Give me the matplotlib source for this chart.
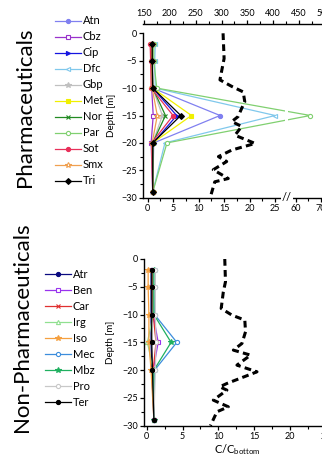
import numpy as np
import matplotlib
matplotlib.use("Agg")
import matplotlib.pyplot as plt
from matplotlib.ticker import MultipleLocator, FixedLocator

plt.rcParams['font.family'] = ['Lato', 'DejaVu Sans']
plt.rcParams['mathtext.fontset'] = 'custom'
plt.rcParams['mathtext.rm'] = 'Lato'

# depths of the samples [m]
depth = [-2, -5, -10, -15, -20, -29]

# pharmaceuticals, C/C_bottom
pharma_names = ['Atn', 'Cbz', 'Cip', 'Dfc', 'Gbp', 'Met', 'Nor', 'Par', 'Sot', 'Smx', 'Tri']
atn = [1.1, 1.0, 1.0, 14.2, 1.2, 1.0]
cbz = [0.8, 0.8, 0.8, 1.1, 0.7, 1.0]
cip = [0.9, 0.9, 1.0, 5.7, 1.1, 1.0]
dfc = [1.5, 1.4, 1.5, 25.0, 3.4, 1.0]
gbp = [1.0, 1.0, 1.0, 2.9, 1.0, 1.0]
met = [0.9, 0.9, 1.0, 8.6, 1.0, 1.0]
nor = [0.9, 0.9, 1.0, 3.5, 1.0, 1.0]
par = [1.2, 1.2, 1.8, 65.8, 3.8, 1.0]
sot = [0.5, 0.6, 0.7, 5.0, 0.8, 1.0]
smx = [0.8, 0.8, 0.9, 1.9, 0.9, 1.0]
tri = [0.9, 0.9, 1.0, 6.5, 1.0, 1.0]
pharma_vals = [atn, cbz, cip, dfc, gbp, met, nor, par, sot, smx, tri]

# non-pharmaceuticals, C/C_bottom
nonph_names = ['Atr', 'Ben', 'Car', 'Irg', 'Iso', 'Mec', 'Mbz', 'Pro', 'Ter']
atr = [0.6, 0.6, 0.6, 0.6, 0.7, 1.0]
ben = [0.9, 0.9, 0.9, 1.6, 0.9, 1.0]
car = [0.8, 0.8, 0.9, 1.3, 0.9, 1.0]
irg = [0.9, 0.9, 0.9, 0.1, 0.9, 1.0]
iso = [0.2, 0.2, 0.3, 0.3, 0.6, 1.0]
mec = [1.2, 1.2, 1.1, 4.2, 1.1, 1.0]
mbz = [1.0, 1.0, 1.0, 3.4, 1.0, 1.0]
pro = [1.2, 1.2, 1.2, 1.3, 1.2, 1.0]
ter = [0.7, 0.7, 0.7, 0.7, 0.8, 1.0]
nonph_vals = [atr, ben, car, irg, iso, mec, mbz, pro, ter]

# dashed profile, top panel (upper axis units)
prof1_x = [303, 305, 300, 297, 320, 342, 345, 339, 332, 320, 339, 326, 365, 320, 294, 310, 284, 313, 287, 278]
prof1_d = [0, -4.6, -7, -8.5, -9.7, -10.7, -12.5, -13.7, -15.2, -16.1, -17, -18.6, -20.1, -21.3, -22.5, -23.4, -24.9, -26.5, -27.1, -30]
# dashed profile, bottom panel
prof2_x = [10.9, 11.0, 10.7, 10.4, 11.9, 13.7, 13.8, 13.3, 12.1, 14.5, 12.6, 15.4, 11.2, 10.2, 11.2, 9.3, 11.4, 9.8, 8.9]
prof2_d = [0, -4.1, -5.9, -8.9, -10.1, -11.0, -13.1, -15.2, -16.4, -17.3, -19.1, -20.3, -22.4, -23.0, -23.6, -25.4, -26.6, -27.5, -30]

pharma_sty = [('#8080f0', 'o', True), ('#9932cc', 's', False), ('#1515e0', '>', True),
              ('#80c8ec', '<', False), ('#c0c0c0', '*', True), ('#f0f000', 's', True),
              ('#228b22', 'x', True), ('#80d070', 'o', False), ('#e8305a', 'o', True),
              ('#f0a050', '*', False), ('#000000', 'D', True)]
nonph_sty = [('#0a0a80', 'o', True), ('#9933ee', 's', False), ('#e03030', 'x', True),
             ('#90e090', '^', False), ('#f5a040', '*', True), ('#3c8ddc', 'o', False),
             ('#20b060', '*', True), ('#c8c8c8', 'o', False), ('#000000', 'o', True)]


def fwd(x):
    x = np.asarray(x, float)
    return np.where(x <= 27, x, np.where(x < 57, 27 + (x - 27) / 60, 27.5 + (x - 57) * 0.5))


def inv(y):
    y = np.asarray(y, float)
    return np.where(y <= 27, y, np.where(y < 27.5, 27 + (y - 27) * 60, 57 + (y - 27.5) * 2))


W, H = 322, 458
fig = plt.figure(figsize=(W / 100, H / 100), dpi=100)


def px_axes(l, t, r, b):
    return fig.add_axes([l / W, 1 - b / H, (r - l) / W, (b - t) / H])


def style_axis(ax):
    for s in ['top', 'right']:
        ax.spines[s].set_visible(False)
    for s in ['left', 'bottom']:
        ax.spines[s].set_linewidth(1.0)
    ax.tick_params(which='major', length=3, width=0.9, labelsize=6.5, pad=1.5)
    ax.tick_params(which='minor', length=2, width=0.8)
    ax.set_ylim(-30, 0)
    ax.yaxis.set_major_locator(MultipleLocator(5))
    ax.yaxis.set_minor_locator(MultipleLocator(2.5))
    ax.set_ylabel('Depth [m]', fontsize=7, labelpad=2)


def draw_series(ax, names, vals, sty):
    for n, v, (c, m, filled) in zip(names, vals, sty):
        ax.plot(v, depth, color=c, lw=0.9, marker=m, ms=3.0 if m != '*' else 4.0,
                mfc=c if filled else 'white', mec=c, mew=0.8, label=n, zorder=2)


legend_kw = dict(frameon=False, fontsize=8, handlelength=2.3, handletextpad=0.2,
                 labelspacing=0.45, borderpad=0, borderaxespad=0)

# ---- top panel
ax1 = px_axes(143, 33.3, 330, 197.7)
style_axis(ax1)
ax1.set_xscale('function', functions=(fwd, inv))
ax1.set_xlim(-0.9, 73.5)
ax1.xaxis.set_major_locator(FixedLocator([0, 5, 10, 15, 20, 25, 60, 70]))
ax1.xaxis.set_minor_locator(FixedLocator([2.5, 7.5, 12.5, 17.5, 22.5, 65]))
draw_series(ax1, pharma_names, pharma_vals, pharma_sty)
ax1.axvspan(27.2, 55, color='white', zorder=2.3, lw=0)
ax1.text(46, -30, '//', fontsize=8, ha='center', va='center', zorder=5, clip_on=False,
         bbox=dict(facecolor='white', edgecolor='none', pad=0.5))
ax1.legend(loc='upper left', bbox_to_anchor=(55 / W, 1 - 15.5 / H), bbox_transform=fig.transFigure,
           **legend_kw)

ax1t = ax1.twiny()
for s in ['bottom', 'left', 'right']:
    ax1t.spines[s].set_visible(False)
ax1t.spines['top'].set_position(('outward', 6.7))
ax1t.spines['top'].set_linewidth(1.0)
ax1t.set_xlim(148, 510)
ax1t.xaxis.set_major_locator(MultipleLocator(50))
ax1t.xaxis.set_minor_locator(MultipleLocator(25))
ax1t.tick_params(which='major', length=3, width=0.9, labelsize=6.5, pad=1.5)
ax1t.tick_params(which='minor', length=2, width=0.8)
ax1t.plot(prof1_x, prof1_d, color='black', lw=2.2, ls=(0, (2.2, 1.4)))

# ---- bottom panel
ax2 = px_axes(144.3, 259, 330, 425.7)
style_axis(ax2)
ax2.set_xlim(-0.34, 25.6)
ax2.xaxis.set_major_locator(MultipleLocator(5))
ax2.xaxis.set_minor_locator(MultipleLocator(2.5))
draw_series(ax2, nonph_names, nonph_vals, nonph_sty)
ax2.plot(prof2_x, prof2_d, color='black', lw=2.2, ls=(0, (2.2, 1.4)))
ax2.set_xlabel('C/C$_{\\mathregular{bottom}}$', fontsize=8, labelpad=1)
ax2.legend(loc='upper left', bbox_to_anchor=(45 / W, 1 - 269 / H), bbox_transform=fig.transFigure,
           **legend_kw)

ax1.yaxis.set_label_coords((116 - 143) / 187, 0.5)
ax2.yaxis.set_label_coords((115 - 144.3) / 185.7, 0.5)

fig.text(25 / W, 1 - 107 / H, 'Pharmaceuticals', rotation=90, fontsize=16, ha='center', va='center')
fig.text(22 / W, 1 - 327 / H, 'Non-Pharmaceuticals', rotation=90, fontsize=16, ha='center', va='center')

fig.savefig('out.png', dpi=100)
